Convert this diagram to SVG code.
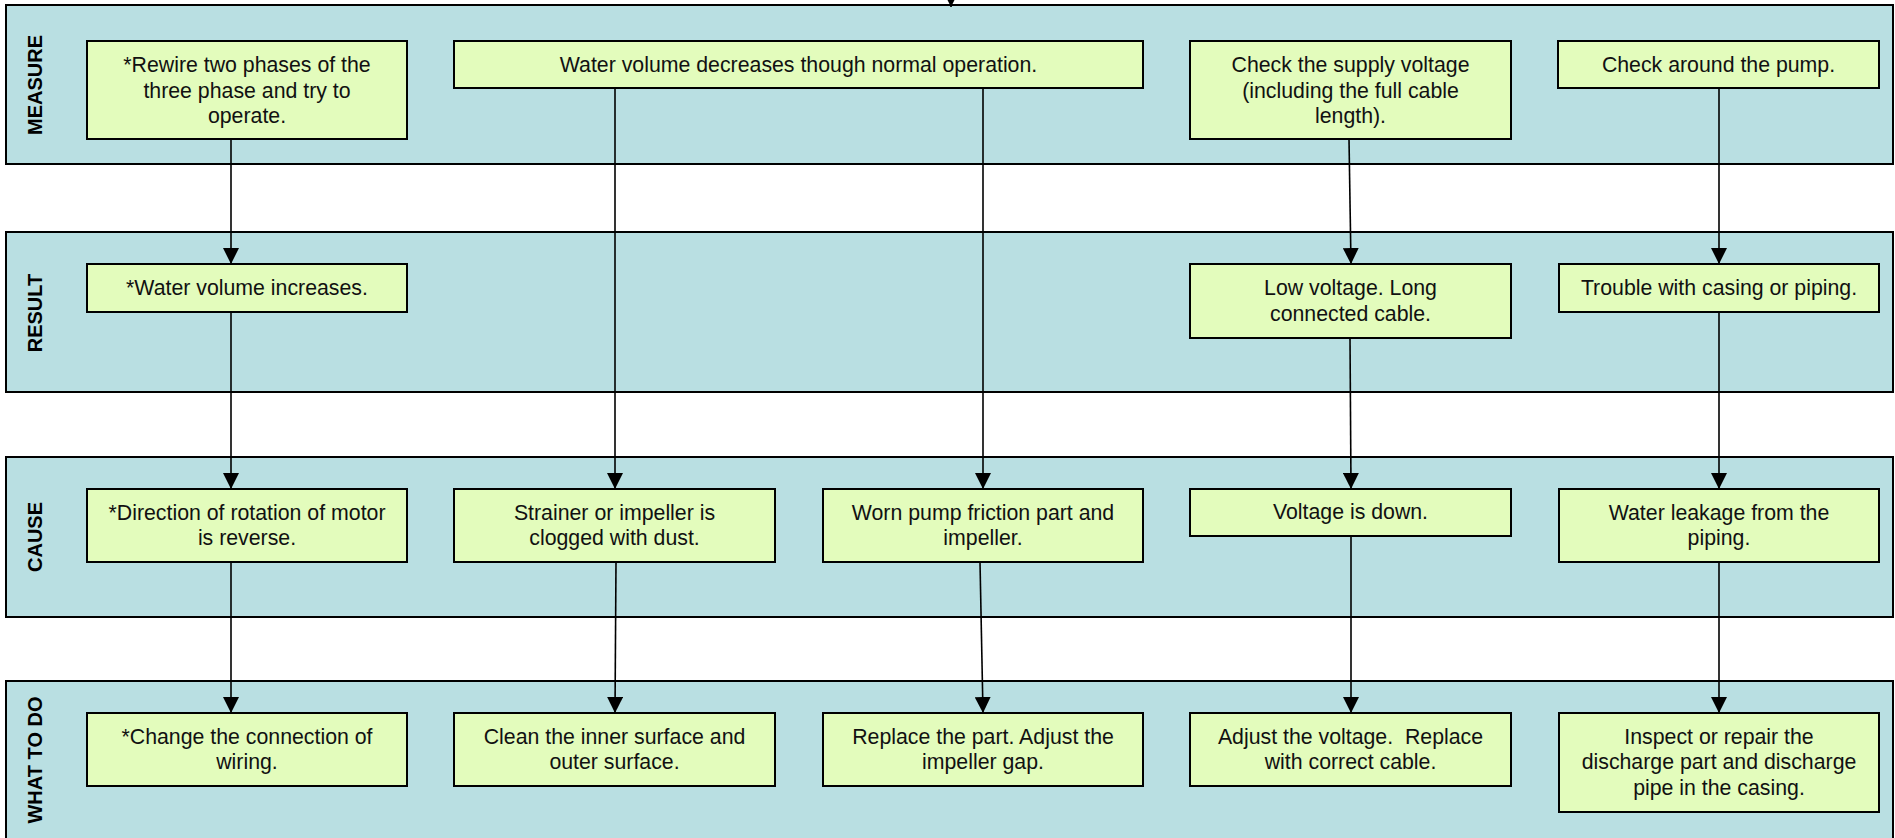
<svg xmlns="http://www.w3.org/2000/svg" width="1895" height="838" viewBox="0 0 1895 838">
<defs>
<marker id="ah" viewBox="0 0 16 16" refX="16" refY="8" markerWidth="16" markerHeight="16" markerUnits="userSpaceOnUse" orient="auto">
<path d="M0,0 L16,8 L0,16 Z" fill="#000"/>
</marker>
</defs>
<style>
.band{fill:#B9DFE2;stroke:#000;stroke-width:2}
.node{fill:#E3FCBC;stroke:#000;stroke-width:2}
.shadow{fill:#555}
.lbl{font-family:"Liberation Sans",Arial,sans-serif;font-size:20px;font-weight:bold;fill:#000;text-anchor:middle}
.t{font-family:"Liberation Sans",Arial,sans-serif;font-size:21.3px;fill:#111;text-anchor:middle}
.c{fill:none;stroke:#000;stroke-width:1.6;marker-end:url(#ah)}
</style>
<rect width="1895" height="838" fill="#fff"/>
<g id="band-measure"><rect class="band" x="6" y="5" width="1887" height="159"/><text class="lbl" transform="translate(42,85) rotate(-90)">MEASURE</text></g>
<g id="band-result"><rect class="band" x="6" y="232" width="1887" height="160"/><text class="lbl" transform="translate(42,313) rotate(-90)">RESULT</text></g>
<g id="band-cause"><rect class="band" x="6" y="457" width="1887" height="160"/><text class="lbl" transform="translate(42,537) rotate(-90)">CAUSE</text></g>
<g id="band-whattodo"><rect class="band" x="6" y="681" width="1887" height="170"/><text class="lbl" transform="translate(42,760) rotate(-90)">WHAT TO DO</text></g>

<g id="connectors">
<line class="c" x1="951" y1="-12" x2="951" y2="7"/>
<line class="c" x1="231" y1="139" x2="231" y2="264"/>
<line class="c" x1="231" y1="312" x2="231" y2="489"/>
<line class="c" x1="231" y1="562" x2="231" y2="713"/>
<line class="c" x1="615" y1="88" x2="615" y2="489"/>
<line class="c" x1="616" y1="562" x2="615" y2="713"/>
<line class="c" x1="983" y1="88" x2="983" y2="489"/>
<line class="c" x1="980" y1="562" x2="983" y2="713"/>
<line class="c" x1="1349" y1="139" x2="1351" y2="264"/>
<line class="c" x1="1350" y1="338" x2="1351" y2="489"/>
<line class="c" x1="1351" y1="536" x2="1351" y2="713"/>
<line class="c" x1="1719" y1="88" x2="1719" y2="264"/>
<line class="c" x1="1719" y1="312" x2="1719" y2="489"/>
<line class="c" x1="1719" y1="562" x2="1719" y2="713"/>
</g>

<g id="n-rewire"><rect class="shadow" x="88" y="42" width="320" height="98"/><rect class="node" x="87" y="41" width="320" height="98"/><text class="t" x="247" y="72">*Rewire two phases of the</text><text class="t" x="247" y="97.5">three phase and try to</text><text class="t" x="247" y="123">operate.</text></g>
<g id="n-watervol"><rect class="shadow" x="455" y="42" width="688" height="47"/><rect class="node" x="454" y="41" width="689" height="47"/><text class="t" x="798.5" y="71.5">Water volume decreases though normal operation.</text></g>
<g id="n-checkvolt"><rect class="shadow" x="1191" y="42" width="321" height="98"/><rect class="node" x="1190" y="41" width="321" height="98"/><text class="t" x="1350.5" y="72">Check the supply voltage</text><text class="t" x="1350.5" y="97.5">(including the full cable</text><text class="t" x="1350.5" y="123">length).</text></g>
<g id="n-checkpump"><rect class="shadow" x="1559" y="42" width="321" height="47"/><rect class="node" x="1558" y="41" width="321" height="47"/><text class="t" x="1718.5" y="71.5">Check around the pump.</text></g>

<g id="n-wvinc"><rect class="shadow" x="88" y="265" width="320" height="48"/><rect class="node" x="87" y="264" width="320" height="48"/><text class="t" x="247" y="295">*Water volume increases.</text></g>
<g id="n-lowvolt"><rect class="shadow" x="1191" y="265" width="321" height="74"/><rect class="node" x="1190" y="264" width="321" height="74"/><text class="t" x="1350.5" y="295">Low voltage. Long</text><text class="t" x="1350.5" y="320.5">connected cable.</text></g>
<g id="n-trouble"><rect class="shadow" x="1560" y="265" width="320" height="48"/><rect class="node" x="1559" y="264" width="320" height="48"/><text class="t" x="1719" y="295">Trouble with casing or piping.</text></g>

<g id="n-direction"><rect class="shadow" x="88" y="490" width="320" height="73"/><rect class="node" x="87" y="489" width="320" height="73"/><text class="t" x="247" y="519.5">*Direction of rotation of motor</text><text class="t" x="247" y="545">is reverse.</text></g>
<g id="n-strainer"><rect class="shadow" x="455" y="490" width="321" height="73"/><rect class="node" x="454" y="489" width="321" height="73"/><text class="t" x="614.5" y="519.5">Strainer or impeller is</text><text class="t" x="614.5" y="545">clogged with dust.</text></g>
<g id="n-worn"><rect class="shadow" x="824" y="490" width="320" height="73"/><rect class="node" x="823" y="489" width="320" height="73"/><text class="t" x="983" y="519.5">Worn pump friction part and</text><text class="t" x="983" y="545">impeller.</text></g>
<g id="n-voltdown"><rect class="shadow" x="1191" y="490" width="321" height="47"/><rect class="node" x="1190" y="489" width="321" height="47"/><text class="t" x="1350.5" y="519">Voltage is down.</text></g>
<g id="n-leak"><rect class="shadow" x="1560" y="490" width="320" height="73"/><rect class="node" x="1559" y="489" width="320" height="73"/><text class="t" x="1719" y="519.5">Water leakage from the</text><text class="t" x="1719" y="545">piping.</text></g>

<g id="n-change"><rect class="shadow" x="88" y="714" width="320" height="73"/><rect class="node" x="87" y="713" width="320" height="73"/><text class="t" x="247" y="743.5">*Change the connection of</text><text class="t" x="247" y="769">wiring.</text></g>
<g id="n-clean"><rect class="shadow" x="455" y="714" width="321" height="73"/><rect class="node" x="454" y="713" width="321" height="73"/><text class="t" x="614.5" y="743.5">Clean the inner surface and</text><text class="t" x="614.5" y="769">outer surface.</text></g>
<g id="n-replace"><rect class="shadow" x="824" y="714" width="320" height="73"/><rect class="node" x="823" y="713" width="320" height="73"/><text class="t" x="983" y="743.5">Replace the part. Adjust the</text><text class="t" x="983" y="769">impeller gap.</text></g>
<g id="n-adjust"><rect class="shadow" x="1191" y="714" width="321" height="73"/><rect class="node" x="1190" y="713" width="321" height="73"/><text class="t" x="1350.5" y="743.5" xml:space="preserve">Adjust the voltage.  Replace</text><text class="t" x="1350.5" y="769">with correct cable.</text></g>
<g id="n-inspect"><rect class="shadow" x="1560" y="714" width="320" height="99"/><rect class="node" x="1559" y="713" width="320" height="99"/><text class="t" x="1719" y="743.5">Inspect or repair the</text><text class="t" x="1719" y="769">discharge part and discharge</text><text class="t" x="1719" y="794.5">pipe in the casing.</text></g>
</svg>
